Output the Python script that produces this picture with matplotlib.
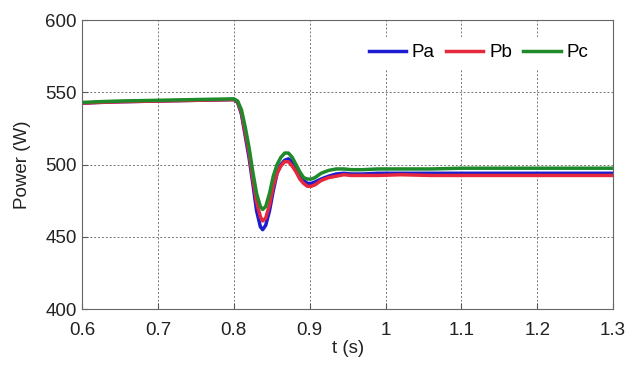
import numpy as np
import matplotlib.pyplot as plt

plt.rcParams['font.family'] = ['Liberation Sans', 'DejaVu Sans']

# datos
t = [0.6, 0.62, 0.65, 0.7, 0.75, 0.8, 0.805, 0.81, 0.815, 0.82, 0.825, 0.83, 0.835,
     0.838, 0.842, 0.847, 0.852, 0.857, 0.862, 0.867, 0.872, 0.877, 0.882, 0.887,
     0.892, 0.897, 0.902, 0.907, 0.915, 0.925, 0.935, 0.945, 0.955, 0.97, 0.99,
     1.02, 1.06, 1.1, 1.15, 1.2, 1.25, 1.3]
pa = [542.5, 543, 543.5, 544, 544.5, 545, 543, 535, 520, 505, 487, 468, 457, 455, 458,
      468, 482, 494, 500, 503, 504, 502, 498, 493, 489, 487, 487, 488, 490, 492,
      493.5, 494, 493.5, 493.5, 494, 494, 494, 494, 494, 494, 494, 494]
pb = [542.5, 543, 543.5, 544, 544.5, 545, 543.5, 536, 522, 508, 490, 474, 464, 461, 463,
      472, 485, 494, 499, 502, 502, 499, 495, 490, 487, 485, 485, 486, 489, 491,
      492, 493, 492.5, 492.5, 492.5, 493, 492.5, 492.5, 492.5, 492.5, 492.5, 492.5]
pc = [543, 543.5, 544, 544.5, 545, 545.5, 544, 538, 526, 512, 495, 480, 471, 469, 471,
      480, 492, 500, 505, 508, 508, 505, 500, 495, 491, 490, 490, 491, 494, 496,
      497, 497, 496.5, 496.5, 497, 497, 497, 497.5, 497.5, 497.5, 497.5, 497.5]

fig = plt.figure(figsize=(6.32, 3.65), dpi=100)
ax = fig.add_axes([0.130, 0.153, 0.840, 0.792])

ax.plot(t, pa, color='#1c1cd0', lw=2.5, label='Pa')
ax.plot(t, pb, color='#e5283c', lw=2.5, label='Pb')
ax.plot(t, pc, color='#1f8a2a', lw=2.5, label='Pc')

ax.set_xlim(0.6, 1.3)
ax.set_ylim(400, 600)
ax.set_xticks([0.6, 0.7, 0.8, 0.9, 1.0, 1.1, 1.2, 1.3])
ax.set_xticklabels(['0.6', '0.7', '0.8', '0.9', '1', '1.1', '1.2', '1.3'])
ax.set_yticks([400, 450, 500, 550, 600])
ax.grid(True, color='#555555', linestyle=(0, (2, 2)), linewidth=0.7, alpha=0.8)
ax.tick_params(direction='in', labelsize=13.5, color='#555555', length=4,
               labelcolor='#222222')
ax.tick_params(axis='x', pad=9)
ax.tick_params(axis='y', pad=4)
for s in ax.spines.values():
    s.set_color('#666666')

ax.set_xlabel('t (s)', fontsize=13.5, labelpad=1, color='#222222')
ax.set_ylabel('Power (W)', fontsize=13.5, labelpad=10, color='#222222')

leg = ax.legend(loc='upper right', ncol=3, fontsize=13.5, frameon=True, fancybox=False,
                edgecolor='none', framealpha=1, handlelength=2.0, columnspacing=0.6,
                handletextpad=0.3, bbox_to_anchor=(0.985, 0.975))

fig.savefig('out.png', dpi=100)
